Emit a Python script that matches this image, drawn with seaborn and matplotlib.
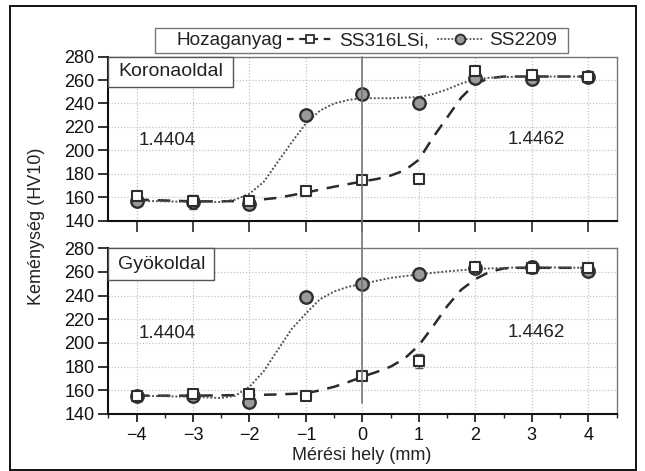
import numpy as np
import pandas as pd
import seaborn as sns
import matplotlib
matplotlib.use("Agg")
import matplotlib.pyplot as plt
from matplotlib.lines import Line2D
from matplotlib.patches import Rectangle

# ---------------- data ----------------
positions = [-4, -3, -2, -1, 0, 1, 2, 3, 4]

# Koronaoldal (top panel)
top_316 = [161, 157, 157, 165, 175, 176, 268, 264, 263]
top_316_err = [3, 4, 3, 2, 3, 4, 3, 3, 2]
top_2209 = [157, 156, 154, 230, 248, 240, 262, 261, 263]
top_2209_err = [4, 6, 4, 2, 2, 2, 3, 3, 2]

# Gyokoldal (bottom panel)
bot_316 = [155, 157, 157, 155, 172, 185, 264, 263, 263]
bot_316_err = [2, 3, 3, 2, 3, 6, 3, 4, 3]
bot_2209 = [155, 155, 150, 239, 250, 258, 263, 264, 261]
bot_2209_err = [2, 2, 3, 3, 2, 5, 3, 5, 3]

# fitted curves
top_316_fit_x = [-4, -3, -2.5, -2, -1.5, -1, -0.5, 0, 0.25, 0.5, 0.75, 1.0, 1.25, 1.5,
                 1.75, 2.0, 2.25, 2.5, 2.75, 3, 3.5, 4]
top_316_fit_y = [158, 156.5, 156.5, 157, 159.5, 164, 169, 173.5, 175.5, 178.5, 183, 192,
                 211, 228, 245, 257, 261.5, 263, 263, 263, 263, 263]
top_2209_fit_x = [-4, -3.5, -3, -2.5, -2.25, -2, -1.75, -1.5, -1.25, -1.0, -0.75, -0.5,
                  -0.25, 0, 0.5, 1.0, 1.25, 1.5, 1.75, 2.0, 2.25, 2.5, 3, 4]
top_2209_fit_y = [157, 156.5, 156, 156, 158, 163, 173, 190, 207, 223, 234, 240,
                  243, 244.5, 244.5, 245.5, 248, 252, 257, 260.5, 262, 262.5, 263, 263]
bot_316_fit_x = [-4, -3, -2, -1.5, -1, -0.75, -0.5, -0.25, 0, 0.25, 0.5, 0.75, 1.0,
                 1.25, 1.5, 1.75, 2.0, 2.25, 2.5, 2.75, 3, 4]
bot_316_fit_y = [155.5, 155.5, 156, 156.5, 157.5, 160, 163, 167, 171.5, 175.5, 180, 187,
                 198, 214, 231, 245, 254, 260, 263, 263.5, 263.5, 263.5]
bot_2209_fit_x = [-4, -3.5, -3, -2.5, -2.25, -2, -1.75, -1.5, -1.25, -1.0, -0.75, -0.5,
                  -0.25, 0, 0.5, 1.0, 1.5, 2.0, 2.5, 3, 4]
bot_2209_fit_y = [155.5, 155, 154.5, 153.5, 155.5, 163, 176, 194, 212, 225, 237, 243.5,
                  247.5, 250, 255, 258, 260.5, 262.5, 263.5, 264, 263.5]

panel_names = ["Koronaoldal", "Gyökoldal"]
series_names = ["SS316LSi,", "SS2209"]
legend_title = "Hozaganyag"
y_ticks = [140, 160, 180, 200, 220, 240, 260, 280]
zone_labels = ["1.4404", "1.4462"]

# ---------------- style ----------------
sns.set_style("ticks")
plt.rcParams["font.family"] = ["Liberation Sans", "DejaVu Sans"]

W, H = 645, 471
fig = plt.figure(figsize=(W / 100, H / 100), dpi=100)

def fx(px):
    return px / W

def fy(py):
    return 1 - py / H

ax_top = fig.add_axes([fx(108.3), fy(220.7), fx(616.5) - fx(108.3), fy(56.6) - fy(220.7)])
ax_bot = fig.add_axes([fx(108.3), fy(414), fx(616.5) - fx(108.3), fy(248.3) - fy(414)])

dash_col = "#2b2b2b"
dot_col = "#555555"

panels = [
    (ax_top, top_316, top_316_err, top_2209, top_2209_err,
     top_316_fit_x, top_316_fit_y, top_2209_fit_x, top_2209_fit_y, panel_names[0], 0.245, 0.187),
    (ax_bot, bot_316, bot_316_err, bot_2209, bot_2209_err,
     bot_316_fit_x, bot_316_fit_y, bot_2209_fit_x, bot_2209_fit_y, panel_names[1], 0.2086, 0.191),
]

for (ax, v316, e316, v2209, e2209, fx316, fy316, fx2209, fy2209, pname, bw, bh) in panels:
    ax.set_xlim(-4.5, 4.5)
    ax.set_ylim(140, 280)
    ax.set_yticks(y_ticks)
    ax.set_xticks(positions)
    ax.grid(True, which="major", color="#c4c4c4", linestyle=(0, (1, 1.5)), linewidth=0.9)
    ax.set_axisbelow(True)

    # fitted curves
    sns.lineplot(x=fx316, y=fy316, ax=ax, color=dash_col, linewidth=1.8, sort=False,
                 linestyle=(0, (5, 3.5)), zorder=2)
    sns.lineplot(x=fx2209, y=fy2209, ax=ax, color=dot_col, linewidth=1.4, sort=False,
                 linestyle=(0, (1, 1)), zorder=2)

    # error bars
    ax.errorbar(positions, v316, yerr=e316, fmt="none", ecolor="#555555", elinewidth=1.0,
                capsize=3, capthick=1.0, zorder=3)
    ax.errorbar(positions, v2209, yerr=e2209, fmt="none", ecolor="#555555", elinewidth=1.0,
                capsize=3, capthick=1.0, zorder=3)

    # markers
    sns.scatterplot(x=positions, y=v2209, ax=ax, marker="o", s=80, color="#9a9a9a",
                    edgecolor="#2e2e2e", linewidth=1.7, zorder=4)
    sns.scatterplot(x=positions, y=v316, ax=ax, marker="s", s=58, color="white",
                    edgecolor="#2e2e2e", linewidth=1.5, zorder=5)

    # zone labels
    ax.text(-3.45, 208, zone_labels[0], ha="center", va="center", fontsize=13.5, color="#222")
    ax.text(3.08, 209, zone_labels[1], ha="center", va="center", fontsize=13.5, color="#222")

    # panel name box
    ax.add_patch(Rectangle((0, 1 - bh), bw, bh, transform=ax.transAxes, facecolor="white",
                           edgecolor="#555555", linewidth=1.0, zorder=6, clip_on=False))
    ax.text(bw / 2, 1 - bh / 2, pname, transform=ax.transAxes, ha="center", va="center",
            fontsize=14, color="#222", zorder=7)

    ax.set_xlabel("")
    ax.set_ylabel("")
    for s in ["left", "bottom"]:
        ax.spines[s].set_color("#111111")
        ax.spines[s].set_linewidth(1.5)
    for s in ["top", "right"]:
        ax.spines[s].set_visible(True)
        ax.spines[s].set_color("#777777")
        ax.spines[s].set_linewidth(1.0)
    ax.tick_params(axis="y", direction="out", length=7, width=1.2, labelsize=13, colors="#111",
                   pad=3)

# top panel: ticks only
ax_top.tick_params(axis="x", direction="out", length=8, width=1.2, labelbottom=False)
# bottom panel: labels + minor ticks
ax_bot.set_xticks([p + 0.5 for p in positions[:-1]] + [-4.5, 4.5], minor=True)
ax_bot.tick_params(axis="x", which="major", direction="out", length=5.5, width=1.2,
                   labelsize=13, colors="#111", pad=4)
ax_bot.tick_params(axis="x", which="minor", direction="out", length=3, width=1.0)

# vertical line at x = 0 spanning both panels
x0_fig = fx(108.3) + (0 + 4.5) / 9 * (fx(616.5) - fx(108.3))
fig.add_artist(Line2D([x0_fig, x0_fig], [fy(56.6), fy(403)], color="#777777", linewidth=1.2,
                      transform=fig.transFigure, zorder=1))

# axis labels
fig.text(fx(37), fy(226), "Keménység (HV10)", rotation=90, ha="center", va="center",
         fontsize=13, color="#222")
fig.text(fx(362), fy(455), "Mérési hely (mm)", ha="center", va="center", fontsize=13,
         color="#222")

# legend (framed box, title text, two series entries)
fig.add_artist(Rectangle((fx(155), fy(53.3)), fx(568) - fx(155), fy(28.3) - fy(53.3),
                         transform=fig.transFigure, facecolor="white", edgecolor="#777777",
                         linewidth=1.0))
fig.text(fx(177), fy(40.8), legend_title, ha="left", va="center", fontsize=13.7, color="#222")
h316 = Line2D([], [], color=dash_col, linewidth=1.6, linestyle=(0, (3, 2.5)), marker="s",
              markersize=6, markerfacecolor="white", markeredgecolor="#2e2e2e",
              markeredgewidth=1.3)
h2209 = Line2D([], [], color=dot_col, linewidth=1.3, linestyle=(0, (1, 1)), marker="o",
               markersize=7, markerfacecolor="#9a9a9a", markeredgecolor="#2e2e2e",
               markeredgewidth=1.4)
leg = fig.legend([h316, h2209], series_names, loc="center left",
                 bbox_to_anchor=(fx(287), fy(40.8)), ncol=2, frameon=False,
                 fontsize=13.7, handlelength=2.4, handletextpad=0.35,
                 columnspacing=0.4, borderpad=0, borderaxespad=0)
for t in leg.get_texts():
    t.set_color("#222")

# outer border
fig.add_artist(Rectangle((fx(10), 0.002), fx(636) - fx(10), fy(6) - 0.002,
                         transform=fig.transFigure, fill=False, edgecolor="#111",
                         linewidth=1.4))

fig.savefig("out.png", dpi=100)
